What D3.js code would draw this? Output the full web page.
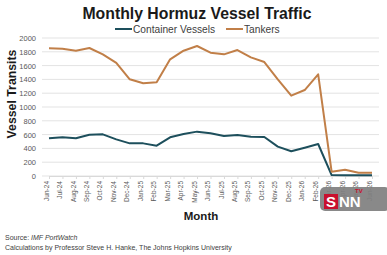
<!DOCTYPE html>
<meta charset="utf-8">
<title>Monthly Hormuz Vessel Traffic</title>
<style>
    body { margin: 0; background: #fff; }
    text { font-family: "Liberation Sans", Arial, sans-serif; }
    .grid line { stroke: #e3e3e3; stroke-width: 1px; }
    .tick text { fill: #595959; }
</style>
<body>
</body>

<script src="https://cdn.jsdelivr.net/npm/d3@7"></script>
<script>
    const width = 387, height = 255;

    const months = ["Jun-24", "Jul-24", "Aug-24", "Sep-24", "Oct-24", "Nov-24", "Dec-24",
        "Jan-25", "Feb-25", "Mar-25", "Apr-25", "May-25", "Jun-25", "Jul-25", "Aug-25",
        "Sep-25", "Oct-25", "Nov-25", "Dec-25", "Jan-26", "Feb-26", "Mar-26", "Apr-26",
        "May-26", "Jun-26"];
    const containerVessels = [546, 560, 546, 599, 604, 531, 473, 473, 440, 561, 609, 643,
        619, 580, 594, 570, 565, 425, 358, 410, 464, 14, 10, 10, 10];
    const tankers = [1850, 1845, 1816, 1855, 1763, 1640, 1401, 1343, 1357, 1691, 1816, 1884,
        1787, 1763, 1826, 1720, 1652, 1401, 1164, 1246, 1474, 63, 92, 48, 48];
    const yTicks = [0, 200, 400, 600, 800, 1000, 1200, 1400, 1600, 1800, 2000];

    const margin = {top: 38, right: 8, bottom: 79, left: 42};

    const svg = d3.select("body").append("svg")
        .attr("width", width)
        .attr("height", height);

    const x = d3.scalePoint()
        .domain(months)
        .range([margin.left + 7, width - margin.right - 7]);

    const y = d3.scaleLinear()
        .domain([0, 2000])
        .range([height - margin.bottom, margin.top]);

    // gridlines
    svg.append("g")
        .attr("class", "grid")
        .selectAll("line")
        .data(yTicks)
        .join("line")
        .attr("x1", margin.left)
        .attr("x2", width - margin.right)
        .attr("y1", d => y(d))
        .attr("y2", d => y(d));

    // y axis
    const yAxis = svg.append("g")
        .attr("transform", `translate(${margin.left},0)`)
        .call(d3.axisLeft(y).tickValues(yTicks).tickFormat(d3.format("d")).tickSize(0).tickPadding(6));
    yAxis.select(".domain").remove();
    yAxis.selectAll("text").attr("font-size", 7.5);

    // x axis
    const xAxis = svg.append("g")
        .attr("transform", `translate(0,${y(0)})`)
        .call(d3.axisBottom(x).tickSize(3).tickPadding(2));
    xAxis.select(".domain").attr("stroke", "#d9d9d9");
    xAxis.selectAll("line").attr("stroke", "#d9d9d9");
    xAxis.selectAll("text")
        .attr("font-size", 6.5)
        .attr("text-anchor", "end")
        .attr("transform", "rotate(-90)")
        .attr("x", -5)
        .attr("y", -3)
        .attr("dy", "0.32em");

    const line = d3.line()
        .x((d, i) => x(months[i]))
        .y(d => y(d));

    const series = [
        {name: "Container Vessels", values: containerVessels, color: "#1d4f5c"},
        {name: "Tankers", values: tankers, color: "#c17f48"}
    ];

    svg.append("g")
        .selectAll("path")
        .data(series)
        .join("path")
        .attr("fill", "none")
        .attr("stroke", d => d.color)
        .attr("stroke-width", 2)
        .attr("stroke-linejoin", "round")
        .attr("d", d => line(d.values));

    // title
    svg.append("text")
        .attr("x", 197)
        .attr("y", 19)
        .attr("text-anchor", "middle")
        .attr("font-size", 15.8)
        .attr("font-weight", "bold")
        .attr("fill", "#1a1a1a")
        .text("Monthly Hormuz Vessel Traffic");

    // legend
    const legend = svg.append("g");
    const legendPos = [115, 226];
    series.forEach((s, i) => {
        const g = legend.append("g").attr("transform", `translate(${legendPos[i]},29)`);
        g.append("line")
            .attr("x1", 0).attr("x2", 17)
            .attr("stroke", s.color).attr("stroke-width", 2);
        g.append("text")
            .attr("x", 18)
            .attr("dy", "0.35em")
            .attr("font-size", 10.2)
            .attr("fill", "#404040")
            .text(s.name);
    });

    // axis titles
    svg.append("text")
        .attr("transform", "translate(16,94) rotate(-90)")
        .attr("text-anchor", "middle")
        .attr("font-size", 12.3)
        .attr("font-weight", "bold")
        .attr("fill", "#1a1a1a")
        .text("Vessel Transits");

    svg.append("text")
        .attr("x", 201)
        .attr("y", 220)
        .attr("text-anchor", "middle")
        .attr("font-size", 11.5)
        .attr("font-weight", "bold")
        .attr("fill", "#1a1a1a")
        .text("Month");

    // source notes
    const src = svg.append("text")
        .attr("x", 5)
        .attr("y", 240)
        .attr("font-size", 7)
        .attr("fill", "#404040");
    src.append("tspan").text("Source: ");
    src.append("tspan").attr("font-style", "italic").text("IMF PortWatch");

    svg.append("text")
        .attr("x", 5)
        .attr("y", 250)
        .attr("font-size", 7)
        .attr("fill", "#404040")
        .text("Calculations by Professor Steve H. Hanke, The Johns Hopkins University");

    // watermark
    const wm = svg.append("g").attr("transform", "translate(320,187)");
    wm.append("rect")
        .attr("width", 70).attr("height", 24).attr("rx", 5)
        .attr("fill", "#7f7f7f").attr("opacity", 0.92);
    wm.append("rect")
        .attr("x", 4).attr("y", 7).attr("width", 14).attr("height", 15)
        .attr("fill", "#c8102e");
    wm.append("text")
        .attr("x", 11).attr("y", 20)
        .attr("text-anchor", "middle")
        .attr("font-size", 15).attr("font-weight", "bold")
        .attr("fill", "#fff").text("S");
    wm.append("text")
        .attr("x", 19).attr("y", 20)
        .attr("font-size", 15).attr("font-weight", "bold")
        .attr("fill", "#fff").text("NN");
    wm.append("text")
        .attr("x", 35).attr("y", 5.5)
        .attr("font-size", 6).attr("font-weight", "bold")
        .attr("fill", "#c8102e").text("TV");
</script>
